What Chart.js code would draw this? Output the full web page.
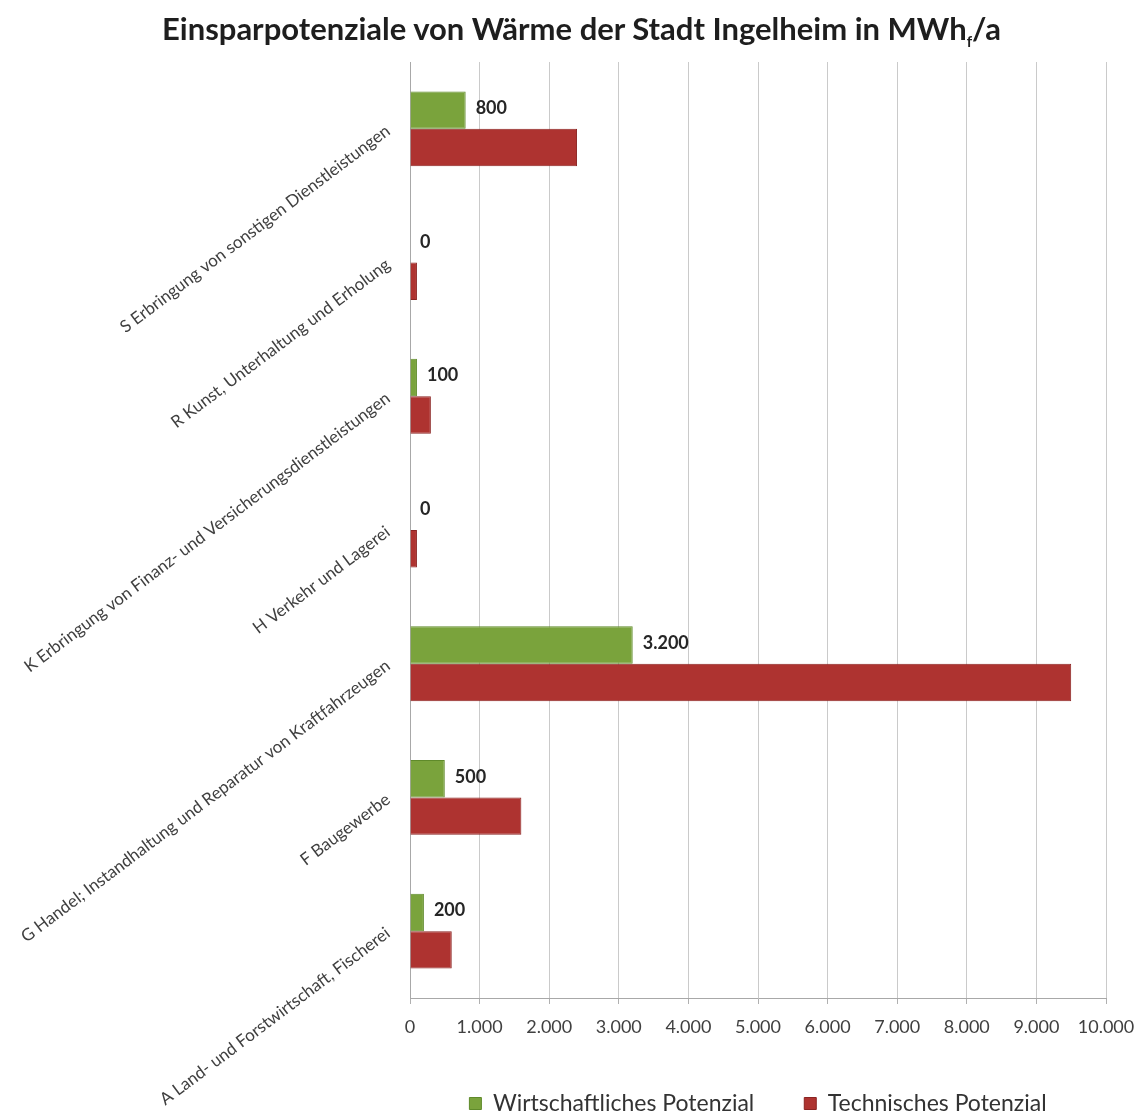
<!DOCTYPE html>
<html lang="de">
<head>
<meta charset="utf-8">
<title>Einsparpotenziale von Wärme der Stadt Ingelheim</title>
<script src="https://cdn.jsdelivr.net/npm/chart.js@4.4.0/dist/chart.umd.min.js"></script>
<style>
  html, body { margin: 0; padding: 0; background: #fff; }
  #wrap { position: relative; width: 1141px; height: 1117px; }
  #title {
    position: absolute; top: 9px; left: 0; width: 1141px;
    padding-left: 22px; box-sizing: border-box;
    text-align: center; font: bold 31px Lato, sans-serif; color: #1e1e1e;
  }
  #title sub { font-size: 15px; }
</style>
</head>
<body>
<div id="wrap">
  <div id="title">Einsparpotenziale von Wärme der Stadt Ingelheim in MWh<sub>f</sub>/a</div>
  <canvas id="myChart" width="1141" height="1117"></canvas>
</div>
<script>
'use strict';

const categories = [
  'S Erbringung von sonstigen Dienstleistungen',
  'R Kunst, Unterhaltung und Erholung',
  'K Erbringung von Finanz- und Versicherungsdienstleistungen',
  'H Verkehr und Lagerei',
  'G Handel; Instandhaltung und Reparatur von Kraftfahrzeugen',
  'F Baugewerbe',
  'A Land- und Forstwirtschaft, Fischerei'
];
const seriesNames = ['Wirtschaftliches Potenzial', 'Technisches Potenzial'];
const wirtschaftlich = [800, 0, 100, 0, 3200, 500, 200];
const technisch = [2400, 100, 300, 100, 9500, 1600, 600];
const xTicks = [0, 1000, 2000, 3000, 4000, 5000, 6000, 7000, 8000, 9000, 10000];

const green = '#7aa33c';
const red = '#ae3330';

function formatDe(v) {
  return String(v).replace(/\B(?=(\d{3})+(?!\d))/g, '.');
}

// labels only on the green bars
const valueLabels = {
  id: 'valueLabels',
  afterDatasetsDraw(chart) {
    const ctx = chart.ctx;
    const meta = chart.getDatasetMeta(0);
    ctx.save();
    ctx.font = 'bold 18px Lato, sans-serif';
    ctx.fillStyle = '#262626';
    ctx.textAlign = 'left';
    ctx.textBaseline = 'middle';
    meta.data.forEach((bar, i) => {
      ctx.fillText(formatDe(wirtschaftlich[i]), bar.x + 10, bar.y - 2);
    });
    ctx.restore();
  }
};

// legend sits under the plot area, not the whole canvas
const legendPlacer = {
  id: 'legendPlacer',
  afterLayout(chart) {
    const lg = chart.legend;
    const area = chart.chartArea;
    lg.left = area.left;
    lg.right = area.right;
    lg.top = 1042;
  }
};

let ctx = document.getElementById('myChart').getContext('2d');
let chart = new Chart(ctx, {
  type: 'bar',
  data: {
    labels: categories,
    datasets: [{
      label: seriesNames[0],
      backgroundColor: green,
      borderColor: '#5f8a2a',
      borderWidth: 1,
      data: wirtschaftlich
    }, {
      label: seriesNames[1],
      backgroundColor: red,
      borderColor: '#8a2422',
      borderWidth: 1,
      data: technisch
    }]
  },
  options: {
    indexAxis: 'y',
    responsive: false,
    animation: false,
    categoryPercentage: 0.56,
    barPercentage: 1.0,
    layout: { padding: { top: 62, right: 35, left: 0, bottom: 0 } },
    scales: {
      x: {
        min: 0,
        max: 10000,
        afterBuildTicks(scale) {
          scale.ticks = xTicks.map(v => ({ value: v }));
        },
        afterFit(scale) {
          scale.height = 69;
          scale.paddingRight = 0;
          scale.paddingLeft = 0;
        },
        grid: { color: '#cacaca', drawTicks: true, tickLength: 6, tickColor: '#b0b0b0' },
        border: { color: '#a8a8a8' },
        ticks: {
          padding: 12,
          color: '#404040',
          font: { family: 'Lato, sans-serif', size: 18 },
          callback: v => formatDe(v)
        }
      },
      y: {
        afterFit(scale) { scale.width = 410; },
        grid: { display: false, drawTicks: false },
        border: { color: '#a8a8a8' },
        ticks: {
          minRotation: 37,
          maxRotation: 37,
          padding: 22,
          autoSkip: false,
          color: '#404040',
          font: { family: 'Lato, sans-serif', size: 17 }
        }
      }
    },
    plugins: {
      title: { display: false },
      tooltip: { enabled: false },
      legend: {
        position: 'bottom',
        maxHeight: 50,
        labels: {
          boxWidth: 12,
          boxHeight: 12,
          padding: 50,
          color: '#333333',
          font: { family: 'Lato, sans-serif', size: 23 }
        }
      }
    }
  },
  plugins: [valueLabels, legendPlacer]
});
</script>
</body>
</html>
